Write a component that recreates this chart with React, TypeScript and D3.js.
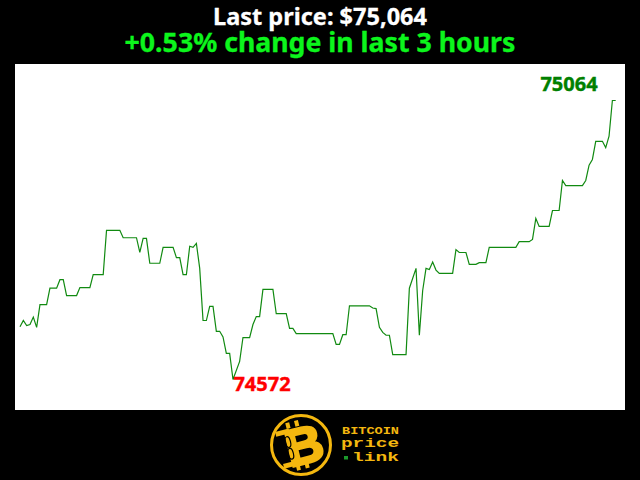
import React from "react";
import * as d3 from "d3";

const titleLine = "Last price: $75,064";
const changeLine = "+0.53% change in last 3 hours";
const minutes = [0,1,2,3,4,5,6,8,9,11,12,13,14,17,18,21,22,25,26,30,31,35,36,37,38,39,42,43,46,47,48,49,50,51,52,53,54,55,56,57,58,59,60,61,62,63,64,66,67,69,70,71,72,73,76,77,80,81,82,83,94,95,96,97,98,99,105,106,107,108,109,110,111,112,116,117,119,120,121,122,123,124,125,126,130,131,132,134,135,137,138,140,141,149,150,153,154,155,156,159,160,162,163,164,169,170,171,172,173,175,176,177,178,179];
const prices = [74665,74676,74667,74669,74682,74664,74704,74704,74733,74733,74748,74748,74720,74720,74734,74734,74757,74757,74835,74835,74822,74822,74796,74821,74821,74777,74777,74805,74805,74787,74787,74757,74757,74807,74805,74812,74768,74676,74676,74701,74701,74657,74657,74647,74618,74618,74572,74604,74646,74646,74669,74683,74683,74731,74731,74688,74688,74662,74662,74653,74653,74634,74634,74651,74651,74702,74702,74698,74697,74664,74655,74650,74650,74616,74616,74733,74768,74650,74729,74768,74766,74779,74765,74759,74759,74801,74796,74796,74775,74775,74778,74778,74805,74805,74815,74815,74819,74856,74842,74842,74870,74870,74923,74914,74914,74923,74950,74960,74992,74992,74981,75001,75064,75064];
const highLabel = "75064";
const lowLabel = "74572";
const logoWords = ["BITCOIN", "price", "link"];

const sans = "'Noto Sans', sans-serif";
const mono = "'Liberation Mono', monospace";
const gold = "#f4b70f";

export default function App() {
  const x = d3.scaleLinear().domain([0, 179]).range([20, 615.7]);
  const y = d3.scaleLinear().domain([74572, 75064]).range([379.5, 100.5]);
  const line = d3.line<number>().x((_, i) => x(minutes[i])).y((d) => y(d));
  return (
    <svg width={640} height={480} style={{ position: "absolute", left: 0, top: 0, background: "#000" }}>
      <rect x={15} y={64} width={610} height={346} fill="#fff" />
      <text x={320} y={24.5} textAnchor="middle" fontFamily={sans} fontWeight={700} fontSize={23.5} fill="#fff" stroke="#fff" strokeWidth={0.3}>{titleLine}</text>
      <text x={320} y={52} textAnchor="middle" fontFamily={sans} fontWeight={700} fontSize={26.7} fill="#0cf51c" stroke="#0cf51c" strokeWidth={0.3}>{changeLine}</text>
      <path d={line(prices) ?? ""} fill="none" stroke="#118a11" strokeWidth={1.2} />
      <text x={569} y={90.5} textAnchor="middle" fontFamily={sans} fontWeight={700} fontSize={20} fill="#008000" stroke="#008000" strokeWidth={0.4}>{highLabel}</text>
      <text x={262} y={390.5} textAnchor="middle" fontFamily={sans} fontWeight={700} fontSize={20} fill="#ff0000" stroke="#ff0000" strokeWidth={0.4}>{lowLabel}</text>
      <g>
        <circle cx={301} cy={445} r={29.5} fill="none" stroke={gold} strokeWidth={3} />
        <g transform="rotate(-14 301 445)" fill={gold}>
          <text x={304} y={464} textAnchor="middle" fontFamily="'Liberation Sans', sans-serif" fontWeight={700} fontSize={52} stroke={gold} strokeWidth={2.5}>B</text>
          <rect x={279} y={426} width={14} height={5} />
          <rect x={279} y={459} width={14} height={5} />
          <ellipse cx={289} cy={439} rx={2.6} ry={5.5} fill="none" stroke="#000" strokeWidth={1.2} />
          <ellipse cx={289} cy={451} rx={2.6} ry={5.5} fill="none" stroke="#000" strokeWidth={1.2} />
          <rect x={291} y={420} width={4} height={6} />
          <rect x={300} y={420} width={4} height={6} />
          <rect x={291} y={463} width={4} height={6} />
          <rect x={300} y={463} width={4} height={6} />
        </g>
        <text x={342} y={433.5} fontFamily={mono} fontWeight={700} fontSize={11} fill={gold} textLength={57} lengthAdjust="spacingAndGlyphs">{logoWords[0]}</text>
        <text x={341} y={447} fontFamily={mono} fontWeight={700} fontSize={12} fill={gold} textLength={58} lengthAdjust="spacingAndGlyphs">{logoWords[1]}</text>
        <rect x={344} y={456} width={4} height={3.5} fill="#1c9a2c" />
        <text x={352} y={460.5} fontFamily={mono} fontWeight={700} fontSize={12} fill={gold} textLength={47} lengthAdjust="spacingAndGlyphs">{logoWords[2]}</text>
      </g>
    </svg>
  );
}
